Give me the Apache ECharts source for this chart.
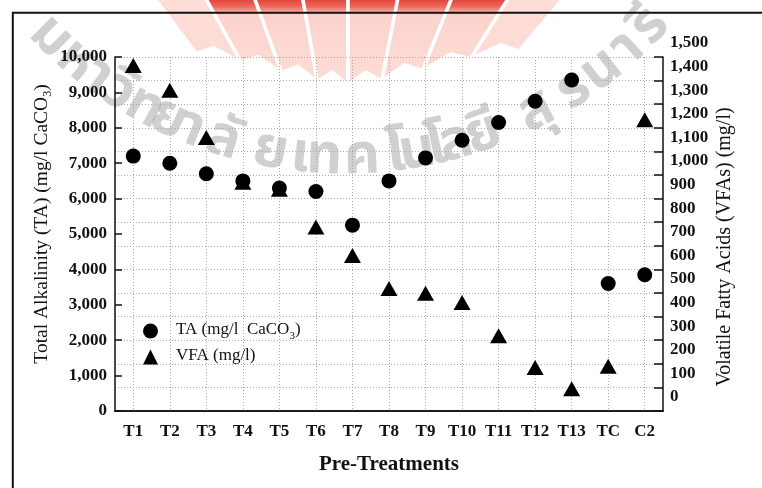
<!DOCTYPE html>
<html><head><meta charset="utf-8">
<script src="https://cdn.jsdelivr.net/npm/echarts@6/dist/echarts.min.js"></script>
<style>html,body{margin:0;padding:0;background:#fff}#c{width:762px;height:488px}</style>
</head><body><div id="c"></div>
<script>
// ---- data ----
const categories = ['T1','T2','T3','T4','T5','T6','T7','T8','T9','T10','T11','T12','T13','TC','C2'];
const taValues  = [7200,7000,6700,6500,6300,6200,5250,6500,7150,7650,8150,8750,9350,3600,3850];
const vfaValues = [1405,1300,1100,910,880,720,600,460,440,400,260,125,35,130,1175];
const taAxisMax = 10000, taAxisStep = 1000;
const vfaAxisMax = 1500, vfaAxisStep = 100;
const seriesNames = ['TA', 'VFA'];

const fmt = v => String(v).replace(/\B(?=(\d{3})+(?!\d))/g, ',');
const SERIF = '"Liberation Serif", "Times New Roman", serif';
const INK = '#111';

const richSub = {
  n:   {fontFamily: SERIF, fontSize: 19.5, lineHeight: 20, verticalAlign: 'top', color: INK},
  sub: {fontFamily: SERIF, fontSize: 12, lineHeight: 12, verticalAlign: 'top', padding: [10,0,0,0], color: INK}
};
const richLeg = {
  n:   {fontFamily: SERIF, fontSize: 17, lineHeight: 20, verticalAlign: 'top', color: INK},
  sub: {fontFamily: SERIF, fontSize: 11, lineHeight: 11, verticalAlign: 'top', padding: [10,0,0,0], color: INK}
};

// ---- watermark (decoration) ----
const wmClusters = [['ม',48],['ห',74],['า',95],['วิ',117],['ท',143],['ย',167],['า',190],['ลั',222],['ย',270],['เ',300],['ท',324],['ค',362],['โ',396],['น',418],['โ',437],['ล',457],['ยี',485],['สุ',538],['ร',576],['น',604],['า',630],['รี',653]];
const wmCx = 345, wmCy = -260.5, wmR = 422.5;
const wmText = wmClusters.map(([t, x]) => {
  const s = Math.max(-0.98, Math.min(0.98, (x - wmCx) / wmR));
  const th = Math.asin(s);
  const y = wmCy + wmR * Math.cos(th);
  return {type: 'text', x: x, y: y, rotation: th, z: -2, silent: true,
    style: {text: t, font: 'bold 56px "Noto Sans Thai", "Noto Sans", "DejaVu Sans", sans-serif',
      fill: 'rgba(170,170,170,0.55)', align: 'center', verticalAlign: 'middle'}};
});
const F = [348, 255];
const bannerEdges = [-37,-29,-20,-10,0,11,22,32,40];
const pt = (r, d) => [F[0] + r * Math.sin(d * Math.PI / 180), F[1] - r * Math.cos(d * Math.PI / 180)];
const rb = d => 170 + 0.06 * d * d;
const redGrad = {type: 'linear', x: 0, y: 0, x2: 0, y2: 100, global: true,
  colorStops: [{offset: 0, color: '#e4463b'}, {offset: 0.07, color: '#ec6c5f'}, {offset: 0.15, color: '#fbd3cb'}, {offset: 1, color: '#fde0da'}]};
const banners = [];
for (let i = 0; i < bannerEdges.length - 1; i++) {
  const a = bannerEdges[i], b = bannerEdges[i + 1], m = (a + b) / 2;
  banners.push({type: 'polygon', z: -3, silent: true,
    shape: {points: [pt(340, a), pt(340, b), pt(rb(b), b), pt(rb(m) + 12, m), pt(rb(a), a)]},
    style: {fill: Math.abs(m) < 30 ? redGrad : '#fcdcd5', stroke: '#fff', lineWidth: 3.5}});
}

const chart = echarts.init(document.getElementById('c'), null, {renderer: 'canvas'});
const axisLineStyle = {color: INK, width: 1.5};
const gridDots = {type: [1, 2], color: '#a8a8a8', width: 1};
const tickFont = {fontFamily: SERIF, fontWeight: 'bold', fontSize: 17, color: INK};

chart.setOption({
  animation: false,
  backgroundColor: '#fff',
  grid: [
    {left: 115, right: 99, top: 57, bottom: 77, containLabel: false},
    // VFA scale: in the original its labels (and points) sit 14px above the tick marks
    {left: 115, right: 99, top: 43, bottom: 91, containLabel: false}
  ],
  graphic: [].concat(banners, wmText, [
    {type: 'rect', z: 100, silent: true, shape: {x: 12.8, y: 12.8, width: 800, height: 600},
      style: {fill: null, stroke: INK, lineWidth: 2}}
  ]),
  legend: {
    orient: 'vertical', left: 138, top: 316, itemWidth: 15, itemHeight: 15, itemGap: 5,
    selectedMode: false, data: seriesNames,
    itemStyle: {opacity: 1},
    formatter: n => n === 'TA' ? '{n|TA (mg/l  CaCO}{sub|3}{n|)}' : '{n|VFA (mg/l)}',
    textStyle: {padding: [0, 0, 0, 13], rich: richLeg}
  },
  xAxis: [
    {type: 'category', gridIndex: 0, data: categories, position: 'bottom',
      axisLine: {lineStyle: axisLineStyle},
      axisTick: {inside: true, alignWithLabel: true, length: 7, lineStyle: axisLineStyle},
      axisLabel: Object.assign({interval: 0, margin: 12}, tickFont),
      splitLine: {show: true, alignWithLabel: true, lineStyle: gridDots},
      name: 'Pre-Treatments', nameLocation: 'middle', nameGap: 43, nameMoveOverlap: false,
      nameTextStyle: {fontFamily: SERIF, fontWeight: 'bold', fontSize: 21, color: INK}},
    {type: 'category', gridIndex: 0, data: categories, position: 'top',
      axisLine: {lineStyle: axisLineStyle},
      axisTick: {inside: true, alignWithLabel: true, length: 7, lineStyle: axisLineStyle},
      axisLabel: {show: false}, splitLine: {show: false}},
    {type: 'category', gridIndex: 1, data: categories, show: false}
  ],
  yAxis: [
    {type: 'value', gridIndex: 0, position: 'left', min: 0, max: taAxisMax, interval: taAxisStep,
      axisLine: {show: true, lineStyle: axisLineStyle},
      axisTick: {show: true, inside: true, length: 7, lineStyle: axisLineStyle},
      axisLabel: Object.assign({margin: 8, formatter: fmt, showMinLabel: true, showMaxLabel: true}, tickFont),
      splitLine: {show: false},
      name: '{n|Total Alkalinity (TA) (mg/l CaCO}{sub|3}{n|)}', nameLocation: 'middle', nameGap: 63,
      nameMoveOverlap: false,
      nameTextStyle: {rich: richSub, padding: [0, 0, 0, 20]}},
    {type: 'value', gridIndex: 0, position: 'right', min: 0, max: vfaAxisMax, interval: vfaAxisStep,
      axisLine: {show: true, lineStyle: axisLineStyle},
      axisTick: {show: true, inside: true, length: 9, lineStyle: axisLineStyle},
      axisLabel: {show: false},
      splitLine: {show: true, lineStyle: gridDots},
      name: 'Volatile Fatty Acids (VFAs) (mg/l)', nameLocation: 'middle', nameRotate: 90, nameGap: 52,
      nameMoveOverlap: false,
      nameTextStyle: {fontFamily: SERIF, fontSize: 20, color: INK, padding: [0, 26, 0, 0]}},
    {type: 'value', gridIndex: 1, position: 'right', min: 0, max: vfaAxisMax, interval: vfaAxisStep,
      axisLine: {show: false}, axisTick: {show: false}, splitLine: {show: false},
      axisLabel: Object.assign({margin: 7, formatter: fmt, showMinLabel: true, showMaxLabel: true}, tickFont)}
  ],
  series: [
    {type: 'scatter', name: 'VFA', xAxisIndex: 2, yAxisIndex: 2, data: vfaValues,
      symbol: 'triangle', symbolSize: [17, 15], itemStyle: {color: '#000', opacity: 1}},
    {type: 'scatter', name: 'TA', xAxisIndex: 0, yAxisIndex: 0, data: taValues,
      symbol: 'circle', symbolSize: 15, itemStyle: {color: '#000', opacity: 1}}
  ]
});
</script></body></html>
